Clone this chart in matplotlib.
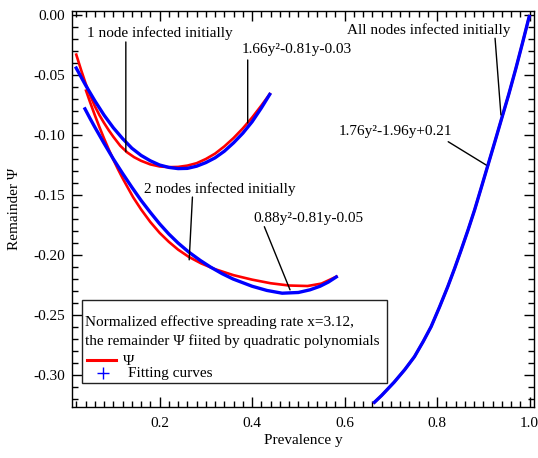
import matplotlib
matplotlib.use("Agg")
import matplotlib.pyplot as plt
from matplotlib.ticker import MultipleLocator, FormatStrFormatter
from matplotlib.patches import Rectangle

plt.rcParams['font.family'] = ['Liberation Serif', 'DejaVu Serif']
plt.rcParams['axes.unicode_minus'] = False
plt.rcParams['font.size'] = 11

# 1 node infected initially
c1_y = [0.019, 0.03, 0.04, 0.05, 0.06, 0.07, 0.08, 0.09, 0.10, 0.115, 0.13, 0.145, 0.16,
        0.18, 0.20, 0.22, 0.24, 0.26, 0.28, 0.30, 0.32, 0.34, 0.36, 0.38, 0.40, 0.42, 0.44]
c1_psi = [-0.032, -0.0455, -0.057, -0.067, -0.076, -0.0835, -0.090, -0.096, -0.1015,
          -0.109, -0.1145, -0.1185, -0.1215, -0.1245, -0.1262, -0.1268, -0.1266, -0.1255,
          -0.1235, -0.120, -0.1155, -0.1095, -0.1025, -0.0945, -0.0855, -0.0755, -0.065]
c1_fy = [0.018, 0.03, 0.04, 0.06, 0.08, 0.10, 0.12, 0.14, 0.16, 0.18, 0.20, 0.22, 0.24,
         0.26, 0.28, 0.30, 0.32, 0.34, 0.36, 0.38, 0.40, 0.42, 0.44]
c1_fit = [-0.043, -0.0515, -0.0585, -0.0715, -0.0835, -0.094, -0.103, -0.111, -0.117,
          -0.1215, -0.125, -0.127, -0.128, -0.1278, -0.126, -0.123, -0.119, -0.1135,
          -0.1065, -0.0985, -0.089, -0.0775, -0.065]

# 2 nodes infected initially
c2_y = [0.040, 0.05, 0.06, 0.07, 0.08, 0.09, 0.10, 0.11, 0.12, 0.13, 0.143, 0.16, 0.18,
        0.20, 0.22, 0.24, 0.263, 0.29, 0.32, 0.36, 0.40, 0.44, 0.48, 0.52, 0.55, 0.585]
c2_psi = [-0.062, -0.073, -0.0835, -0.0935, -0.103, -0.112, -0.1205, -0.1285, -0.136,
          -0.143, -0.152, -0.162, -0.1725, -0.1815, -0.189, -0.1955, -0.2015, -0.207,
          -0.2118, -0.2168, -0.2205, -0.2235, -0.2254, -0.2258, -0.2238, -0.2175]
c2_fy = [0.037, 0.05, 0.06, 0.08, 0.10, 0.12, 0.14, 0.16, 0.18, 0.20, 0.22, 0.24, 0.263,
         0.288, 0.31, 0.335, 0.359, 0.40, 0.432, 0.465, 0.50, 0.525, 0.547, 0.565, 0.585]
c2_fit = [-0.077, -0.0865, -0.0935, -0.107, -0.120, -0.132, -0.1435, -0.1545, -0.1645,
          -0.174, -0.1825, -0.190, -0.1975, -0.2045, -0.210, -0.2155, -0.220, -0.226,
          -0.2295, -0.2318, -0.2312, -0.229, -0.226, -0.2225, -0.2175]

# all nodes infected initially
c3_y = [0.662, 0.68, 0.707, 0.73, 0.751, 0.77, 0.787, 0.805, 0.823, 0.838, 0.852, 0.867,
        0.881, 0.895, 0.910, 0.925, 0.939, 0.955, 0.97, 0.985, 1.0]
c3_psi = [-0.3236, -0.317, -0.306, -0.2955, -0.2847, -0.272, -0.2597, -0.2435, -0.2264,
          -0.211, -0.1958, -0.179, -0.1625, -0.1445, -0.125, -0.1055, -0.087, -0.066,
          -0.045, -0.0228, 0.0]
c3_fit = [-0.3236, -0.317, -0.306, -0.2955, -0.2847, -0.272, -0.2597, -0.2435, -0.2264,
          -0.211, -0.1958, -0.179, -0.1625, -0.1445, -0.125, -0.1055, -0.087, -0.066,
          -0.045, -0.0228, 0.0]

fig = plt.figure(figsize=(5.38, 4.58), dpi=100)
ax = fig.add_axes([0.1333, 0.1103, 0.8597, 0.8657])

red = '#ff0000'
blue = '#0000ff'
for xs, ys in [(c1_y, c1_psi), (c2_y, c2_psi), (c3_y, c3_psi)]:
    ax.plot(xs, ys, color=red, lw=1.9, solid_capstyle='butt', solid_joinstyle='round')
for xs, ys in [(c1_fy, c1_fit), (c2_fy, c2_fit), (c3_y, c3_fit)]:
    ax.plot(xs, ys, color=blue, lw=2.4, solid_capstyle='butt', solid_joinstyle='round')

ax.set_xlim(0.01, 1.01)
ax.set_ylim(-0.327, 0.0033)

ax.xaxis.set_major_locator(MultipleLocator(0.2))
ax.xaxis.set_minor_locator(MultipleLocator(0.02))
ax.yaxis.set_major_locator(MultipleLocator(0.05))
ax.yaxis.set_minor_locator(MultipleLocator(0.01))
ax.xaxis.set_major_formatter(FormatStrFormatter('%.1f'))
ax.yaxis.set_major_formatter(FormatStrFormatter('%.2f'))
ax.tick_params(which='both', direction='in', top=True, right=True, width=1, labelsize=11)
ax.tick_params(which='major', length=7)
ax.tick_params(which='minor', length=4)
ax.tick_params(axis='x', pad=7)
ax.tick_params(axis='y', pad=5)
for s in ax.spines.values():
    s.set_linewidth(1.0)

ax.set_xlabel('Prevalence y', fontsize=11)
ax.set_ylabel('Remainder Ψ', fontsize=11)
ax.xaxis.set_label_coords(0.5, -0.068)
ax.yaxis.set_label_coords(-0.109, 0.5)

# annotations
line_kw = dict(arrowstyle='-', lw=1, color='black', shrinkA=0, shrinkB=0)
ax.text(0.043, -0.015, '1 node infected initially', va='center', ha='left')
ax.annotate('', xy=(0.127, -0.114), xytext=(0.127, -0.0225), arrowprops=line_kw)
ax.text(0.378, -0.029, '1.66y²-0.81y-0.03', va='center', ha='left')
ax.annotate('', xy=(0.3905, -0.090), xytext=(0.3905, -0.0375), arrowprops=line_kw)
ax.text(0.166, -0.1448, '2 nodes infected initially', va='center', ha='left')
ax.annotate('', xy=(0.264, -0.204), xytext=(0.271, -0.1517), arrowprops=line_kw)
ax.text(0.403, -0.1697, '0.88y²-0.81y-0.05', va='center', ha='left')
ax.annotate('', xy=(0.482, -0.229), xytext=(0.4265, -0.1764), arrowprops=line_kw)
ax.text(0.606, -0.0125, 'All nodes infected initially', va='center', ha='left')
ax.annotate('', xy=(0.938, -0.0833), xytext=(0.9253, -0.0194), arrowprops=line_kw)
ax.text(0.587, -0.0972, '1.76y²-1.96y+0.21', va='center', ha='left')
ax.annotate('', xy=(0.906, -0.125), xytext=(0.824, -0.1056), arrowprops=line_kw)

# legend box drawn in axes coordinates
ta = ax.transAxes
ax.add_patch(Rectangle((0.0216, 0.0625), 0.6594, 0.2085, transform=ta, facecolor='white',
                       edgecolor='#222222', lw=1.0, zorder=5))
ax.text(0.0288, 0.2156, 'Normalized effective spreading rate x=3.12,', transform=ta,
        va='center', ha='left', zorder=6)
ax.text(0.0288, 0.1677, 'the remainder Ψ fiited by quadratic polynomials', transform=ta,
        va='center', ha='left', zorder=6)
ax.plot([0.0333, 0.0960], [0.1205, 0.1205], transform=ta, color=red, lw=2.2, zorder=6)
ax.text(0.111, 0.1205, 'Ψ', transform=ta, va='center_baseline', ha='left', zorder=6)
ax.plot([0.0677], [0.0860], transform=ta, color=blue, marker='+', ms=9, mew=1,
        ls='none', zorder=6)
ax.text(0.1219, 0.0860, 'Fitting curves', transform=ta, va='center', ha='left', zorder=6)

fig.savefig('out.png', dpi=100)
